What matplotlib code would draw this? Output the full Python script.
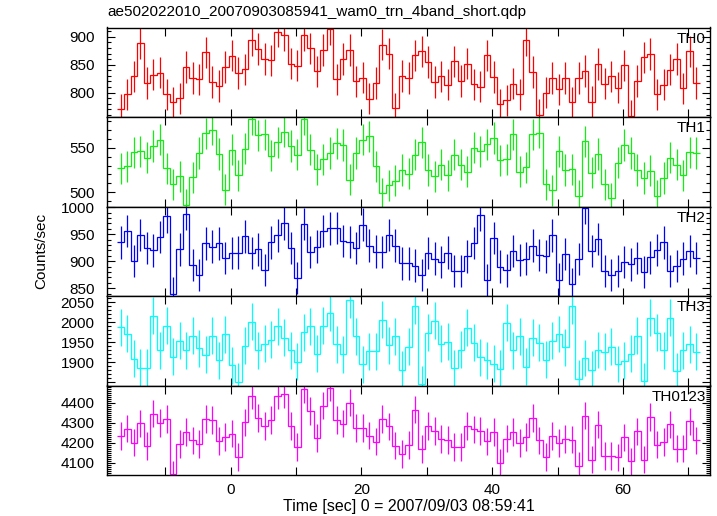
import numpy as np
import matplotlib
matplotlib.use("Agg")
import matplotlib.pyplot as plt
from matplotlib.ticker import MultipleLocator, FuncFormatter

plt.rcParams['font.family'] = ['Liberation Sans', 'DejaVu Sans']

title = "ae502022010_20070903085941_wam0_trn_4band_short.qdp"
xlabel = "Time [sec] 0 = 2007/09/03 08:59:41"
ylabel = "Counts/sec"

t_start = -17.3      # left edge of first 1-s bin
bin_width = 1.0

band_names = ["TH0", "TH1", "TH2", "TH3", "TH0123"]
band_colors = ["#ff0000", "#11ee11", "#0000ff", "#00ffff", "#ff00ff"]

th0 = [770, 797, 829, 889, 817, 832, 836, 797, 783, 790, 846, 826, 824, 872, 819,
       812, 846, 866, 835, 842, 894, 878, 860, 858, 909, 903, 852, 848, 903, 879,
       838, 876, 913, 824, 860, 876, 820, 827, 789, 817, 886, 870, 772, 830, 826,
       867, 874, 855, 819, 829, 814, 856, 821, 852, 815, 811, 867, 828, 779, 786,
       816, 797, 894, 837, 760, 800, 826, 806, 826, 783, 826, 839, 784, 851, 816,
       829, 809, 849, 759, 821, 863, 869, 797, 814, 841, 860, 808, 874, 817]
th1 = [527, 529, 545, 546, 539, 552, 559, 527, 509, 518, 486, 517, 544, 566, 570,
       543, 503, 548, 519, 549, 582, 564, 565, 541, 556, 568, 552, 542, 582, 548,
       526, 537, 544, 555, 553, 514, 544, 559, 563, 529, 499, 508, 513, 525, 521,
       542, 556, 525, 518, 531, 519, 542, 531, 523, 550, 546, 554, 561, 536, 537,
       565, 523, 528, 565, 567, 509, 502, 546, 525, 526, 496, 557, 522, 543, 509,
       493, 533, 553, 544, 525, 516, 524, 496, 516, 539, 531, 519, 545, 544]
th2 = [935, 956, 901, 949, 925, 920, 945, 983, 840, 922, 988, 893, 875, 933, 927,
       933, 906, 915, 916, 946, 915, 922, 884, 935, 948, 970, 924, 869, 969, 917,
       927, 956, 961, 962, 938, 936, 924, 968, 929, 918, 917, 949, 929, 896, 896,
       892, 874, 915, 905, 899, 916, 882, 882, 909, 934, 986, 865, 943, 890, 883,
       919, 902, 905, 929, 911, 909, 948, 866, 914, 857, 904, 999, 919, 941, 882,
       874, 882, 899, 894, 906, 880, 907, 921, 935, 882, 891, 905, 919, 906]
th3 = [1988, 1972, 1909, 1887, 1887, 2017, 1930, 1992, 1914, 1954, 1930, 1967, 1935,
       1919, 1967, 1905, 1970, 1893, 1852, 1942, 2002, 1930, 1947, 1957, 1990, 1962,
       1930, 1902, 1975, 1990, 1922, 1992, 2024, 1945, 1920, 2057, 1965, 1895, 1928,
       1928, 2007, 1943, 1965, 1882, 1939, 2042, 1845, 1974, 2004, 1947, 1952, 1885,
       1932, 1987, 1949, 1913, 1905, 1897, 1884, 1999, 1930, 1965, 1889, 1962, 1949,
       1907, 1954, 1971, 1938, 2042, 1859, 1911, 1882, 1931, 1927, 1939, 1896, 1904,
       1922, 1967, 1853, 2012, 1974, 1930, 2012, 1878, 1930, 1945, 1927]
th0123 = [4233, 4270, 4200, 4297, 4183, 4345, 4298, 4318, 4042, 4193, 4253, 4212, 4193,
          4318, 4313, 4208, 4228, 4245, 4128, 4302, 4435, 4323, 4283, 4313, 4435, 4442,
          4283, 4178, 4467, 4358, 4223, 4385, 4475, 4313, 4295, 4400, 4273, 4273, 4235,
          4205, 4318, 4282, 4185, 4143, 4188, 4365, 4168, 4283, 4258, 4218, 4213, 4178,
          4178, 4283, 4267, 4258, 4207, 4253, 4098, 4220, 4253, 4198, 4228, 4323, 4212,
          4128, 4233, 4198, 4218, 4215, 4083, 4335, 4115, 4290, 4133, 4133, 4127, 4227,
          4107, 4257, 4115, 4328, 4190, 4203, 4292, 4170, 4170, 4307, 4212]
series = [th0, th1, th2, th3, th0123]

band_errors = [28, 17.5, 30, 46, 68]

ylims = [(756.5, 916.5), (484, 584.5), (835.5, 1001.5), (1842, 2066), (4038, 4486)]
y_major = [50, 50, 50, 50, 100]
y_minor = [10, 10, 10, 10, 10]
y_labeled = [(800, 900), (500, 550), (850, 1000), (1900, 2050), (4100, 4400)]
xlim = (-18.9, 73.3)

W, H = 717, 516
fig = plt.figure(figsize=(W / 100, H / 100), dpi=100)
left, right = 107 / W, 710 / W
top_px, bot_px = 27.5, 475.0
ph = (bot_px - top_px) / 5


def make_yfmt(lo, hi):
    def f(v, p):
        iv = int(round(v))
        return f"{iv}" if lo <= iv <= hi else ""
    return FuncFormatter(f)


for k in range(5):
    vals = np.array(series[k], dtype=float)
    n = len(vals)
    edges = t_start + bin_width * np.arange(n + 1)
    centers = 0.5 * (edges[:-1] + edges[1:])
    y0 = 1 - (top_px + (k + 1) * ph) / H
    ax = fig.add_axes([left, y0, right - left, ph / H])
    col = band_colors[k]
    ax.stairs(vals, edges, baseline=None, color=col, lw=0.9)
    ax.errorbar(centers, vals, yerr=band_errors[k], fmt='none', ecolor=col,
                elinewidth=0.9, capsize=0)
    ax.set_xlim(*xlim)
    ax.set_ylim(*ylims[k])
    ax.xaxis.set_major_locator(MultipleLocator(10))
    ax.yaxis.set_major_locator(MultipleLocator(y_major[k]))
    ax.yaxis.set_minor_locator(MultipleLocator(y_minor[k]))
    ax.yaxis.set_major_formatter(make_yfmt(*y_labeled[k]))
    ax.tick_params(axis='both', which='both', direction='in', top=True, right=True,
                   labelsize=11, width=0.8, color='black')
    ax.tick_params(axis='both', which='major', length=6)
    ax.tick_params(axis='y', which='minor', length=3)
    ax.tick_params(axis='y', pad=9)
    ax.tick_params(axis='x', pad=6)
    for s in ax.spines.values():
        s.set_linewidth(1.0)
    ax.text(0.993, 0.955, band_names[k], transform=ax.transAxes, ha='right',
            va='top', fontsize=11)
    if k < 4:
        ax.tick_params(axis='x', labelbottom=False)
    else:
        ax.xaxis.set_major_formatter(FuncFormatter(
            lambda v, p: f"{int(round(v))}" if int(round(v)) % 20 == 0 else ""))

fig.text(left, 1 - 12 / H, title, ha='left', va='center', fontsize=11)
fig.text(41 / W, 1 - 251 / H, ylabel, rotation=90, ha='center', va='center', fontsize=11)
fig.text((left + right) / 2, 1 - 507 / H, xlabel, ha='center', va='center', fontsize=11.5)

fig.savefig("out.png", dpi=100)
